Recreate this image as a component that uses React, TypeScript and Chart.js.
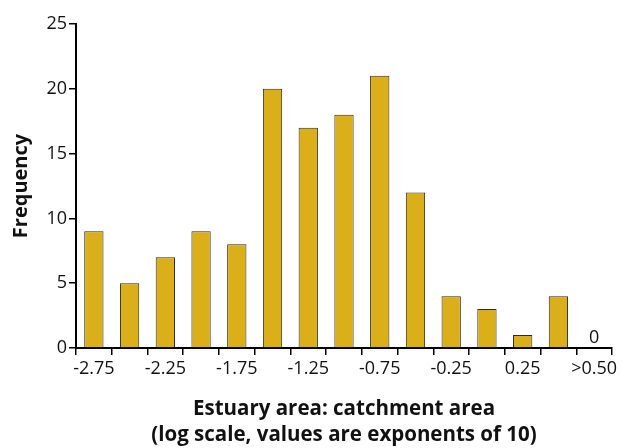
import React, { useEffect, useRef } from "react";
import { Chart, registerables } from "chart.js";

Chart.register(...registerables);

const categories = ["-2.75", "-2.50", "-2.25", "-2.00", "-1.75", "-1.50", "-1.25", "-1.00", "-0.75", "-0.50", "-0.25", "0.00", "0.25", "0.50", ">0.50"];
const frequencies = [9, 5, 7, 9, 8, 20, 17, 18, 21, 12, 4, 3, 1, 4, 0];
const shownTickLabels = ["-2.75", "", "-2.25", "", "-1.75", "", "-1.25", "", "-0.75", "", "-0.25", "", "0.25", "", ">0.50"];
const xTitle = ["Estuary area: catchment area", "(log scale, values are exponents of 10)"];
const yTitle = "Frequency";

const FONT = "'Open Sans', 'Noto Sans', sans-serif";

const zeroLabelPlugin = {
  id: "zeroLabel",
  afterDatasetsDraw(chart: any) {
    const meta = chart.getDatasetMeta(0);
    const ctx = chart.ctx;
    ctx.save();
    ctx.font = `18px ${FONT}`;
    ctx.fillStyle = "#111";
    ctx.textAlign = "center";
    ctx.textBaseline = "bottom";
    meta.data.forEach((el: any, i: number) => {
      if (frequencies[i] === 0) {
        ctx.fillText("0", el.x, el.y - 1);
      }
    });
    ctx.restore();
  },
};

export default function App() {
  const ref = useRef<HTMLCanvasElement>(null);
  useEffect(() => {
    if (!ref.current) return;
    const chart = new Chart(ref.current, {
      type: "bar",
      data: {
        labels: categories,
        datasets: [
          {
            data: frequencies,
            backgroundColor: "#DBAF1A",
            borderColor: "#2e2a1e",
            borderWidth: 1,
            categoryPercentage: 1,
            barPercentage: 0.54,
          },
        ],
      },
      options: {
        animation: false,
        responsive: false,
        layout: { padding: { top: 24, right: 11, left: 0, bottom: 0 } },
        plugins: { legend: { display: false }, tooltip: { enabled: false } },
        scales: {
          x: {
            offset: true,
            grid: { offset: true, drawOnChartArea: false, drawTicks: true, tickLength: 7, color: "#000", lineWidth: 1.5 },
            border: { display: true, color: "#000", width: 2 },
            ticks: {
              autoSkip: false,
              maxRotation: 0,
              color: "#111",
              font: { family: FONT, size: 18 },
              padding: 3,
              callback: (_v: any, i: number) => shownTickLabels[i],
            },
            title: {
              display: true,
              text: xTitle,
              color: "#111",
              font: { family: FONT, size: 20.5, weight: "bold", lineHeight: 1.27 },
              padding: { top: 9, bottom: 0 },
            },
            afterFit: (scale: any) => {
              scale.height = 100;
            },
          },
          y: {
            min: 0,
            max: 25,
            ticks: { stepSize: 5, color: "#111", font: { family: FONT, size: 18 }, padding: 2 },
            grid: { drawOnChartArea: false, drawTicks: true, tickLength: 7, color: "#000", lineWidth: 1.5 },
            border: { display: true, color: "#000", width: 2 },
            title: {
              display: true,
              text: yTitle,
              color: "#111",
              font: { family: FONT, size: 20, weight: "bold" },
              padding: { top: 9, bottom: 4 },
            },
            afterFit: (scale: any) => {
              scale.width = 76;
            },
          },
        },
      },
      plugins: [zeroLabelPlugin],
    });
    return () => chart.destroy();
  }, []);
  return (
    <div style={{ position: "fixed", left: 0, top: 0, width: 623, height: 448, background: "#fff" }}>
      <canvas ref={ref} width={623} height={448} style={{ width: 623, height: 448 }} />
    </div>
  );
}
